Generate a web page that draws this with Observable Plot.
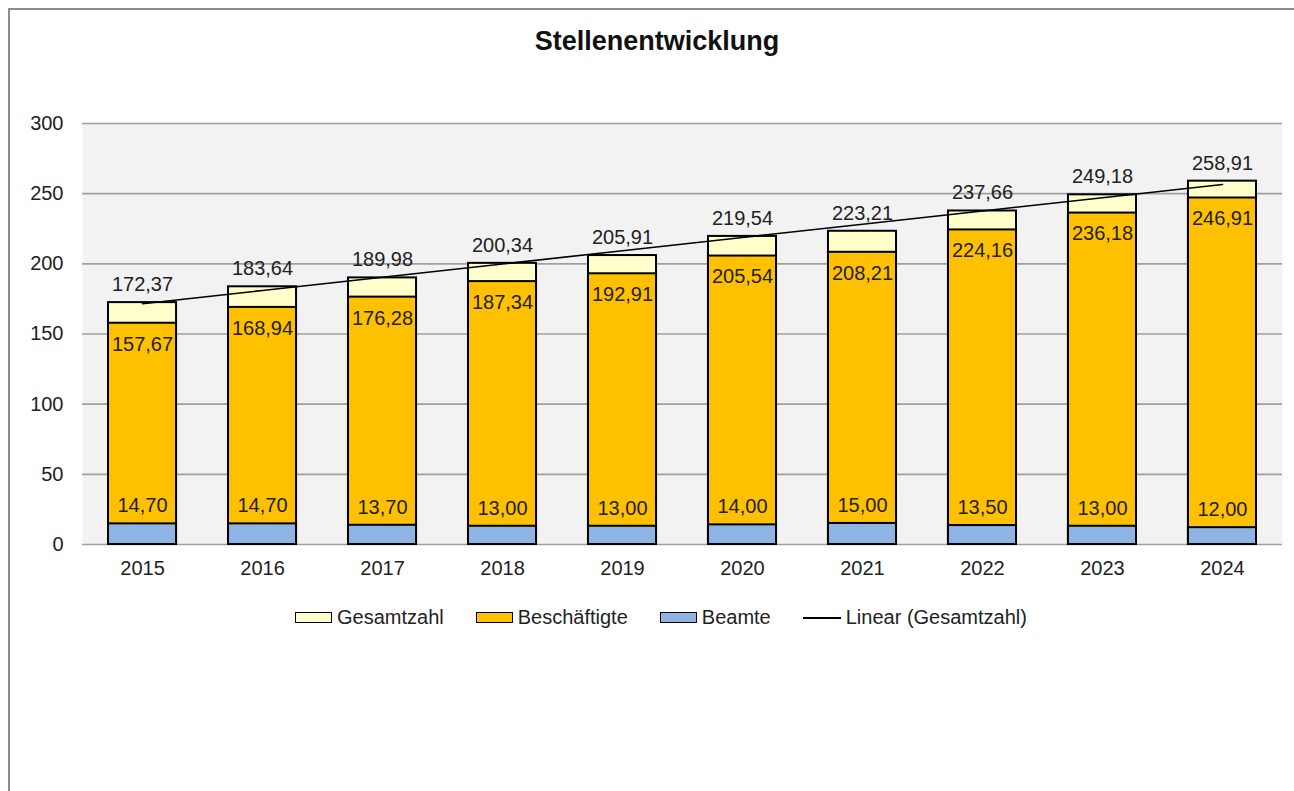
<!DOCTYPE html>
<html>
<head>
<meta charset="utf-8">
<script src="https://cdn.jsdelivr.net/npm/d3@7"></script>
<script src="https://cdn.jsdelivr.net/npm/@observablehq/plot@0.6"></script>
<style>
  html, body { margin: 0; padding: 0; background: #fff; }
  #page { position: relative; width: 1294px; height: 791px; overflow: hidden; font-family: "Liberation Sans", Arial, sans-serif; }
  #frame { position: absolute; left: 8px; top: 8px; width: 1400px; height: 900px; border-left: 2px solid #8c8c8c; border-top: 2px solid #8c8c8c; }
  #title { position: absolute; left: 0; top: 26px; width: 1314px; text-align: center; font-weight: bold; font-size: 27px; color: #111; }
  #chart { position: absolute; left: 0; top: 100px; }
  #legend { position: absolute; left: 295px; top: 606px; display: flex; gap: 32px; align-items: center; font-size: 20px; color: #222; }
  .item { display: flex; align-items: center; gap: 5px; }
  .sw { width: 35px; height: 9px; border: 1.6px solid #000; }
  .ln { width: 38px; height: 0; border-top: 2px solid #000; }
</style>
</head>
<body>
<div id="page">
  <div id="frame"></div>
  <div id="title">Stellenentwicklung</div>
  <div id="chart"></div>
  <div id="legend"></div>
</div>
<script>
const years = ["2015","2016","2017","2018","2019","2020","2021","2022","2023","2024"];
const gesamtzahl = [172.37,183.64,189.98,200.34,205.91,219.54,223.21,237.66,249.18,258.91];
const beschaeftigte = [157.67,168.94,176.28,187.34,192.91,205.54,208.21,224.16,236.18,246.91];
const beamte = [14.70,14.70,13.70,13.00,13.00,14.00,15.00,13.50,13.00,12.00];
const yTicks = [0,50,100,150,200,250,300];
const seriesNames = ["Gesamtzahl","Beschäftigte","Beamte","Linear (Gesamtzahl)"];
const colors = {Gesamtzahl: "#ffffcc", "Beschäftigte": "#ffc000", Beamte: "#8db4e2"};

const fmt = d3.formatLocale({decimal: ",", thousands: ".", grouping: [3], currency: ["", "€"]}).format(".2f");

const rows = years.map((y, i) => ({year: y, i, g: gesamtzahl[i], b: beschaeftigte[i], a: beamte[i]}));

// linear trend of Gesamtzahl
const mx = d3.mean(rows, d => d.i), my = d3.mean(rows, d => d.g);
const slope = d3.sum(rows, d => (d.i - mx) * (d.g - my)) / d3.sum(rows, d => (d.i - mx) ** 2);
const icpt = my - slope * mx;
const trend = rows.map(d => ({year: d.year, v: icpt + slope * d.i}));

const txt = {fontSize: 20, fill: "#222", fontFamily: "Liberation Sans, Arial, sans-serif"};

const chart = Plot.plot({
  width: 1294,
  height: 484,
  marginTop: 23,
  marginBottom: 40,
  marginLeft: 82,
  marginRight: 12,
  style: {fontFamily: "Liberation Sans, Arial, sans-serif", fontSize: "20px", color: "#222", background: "transparent"},
  x: {domain: years, paddingInner: 0.433, paddingOuter: 0.2167, round: false, label: null},
  y: {domain: [0, 300], ticks: yTicks, label: null},
  marks: [
    Plot.frame({fill: "#f2f2f2", stroke: null}),
    Plot.ruleY(yTicks, {stroke: "#a0a0a0", strokeWidth: 1.6}),
    Plot.barY(rows, {x: "year", y: "g", fill: colors.Gesamtzahl, stroke: "#000", strokeWidth: 2}),
    Plot.barY(rows, {x: "year", y: "b", fill: colors["Beschäftigte"], stroke: "#000", strokeWidth: 2}),
    Plot.barY(rows, {x: "year", y: "a", fill: colors.Beamte, stroke: "#000", strokeWidth: 2}),
    Plot.line(trend, {x: "year", y: "v", stroke: "#000", strokeWidth: 1.6}),
    Plot.text(rows, {x: "year", y: "g", text: d => fmt(d.g), dy: -18, ...txt}),
    Plot.text(rows, {x: "year", y: "b", text: d => fmt(d.b), dy: 21, ...txt}),
    Plot.text(rows, {x: "year", y: "a", text: d => fmt(d.a), dy: -18, ...txt}),
    Plot.axisY({ticks: yTicks, tickSize: 0, tickPadding: 19, tickFormat: d => String(d), fontSize: 20}),
    Plot.axisX({tickSize: 0, tickPadding: 16, fontSize: 20})
  ]
});
document.getElementById("chart").appendChild(chart);

const legend = document.getElementById("legend");
seriesNames.forEach(name => {
  const item = document.createElement("div");
  item.className = "item";
  const sw = document.createElement("div");
  if (colors[name]) { sw.className = "sw"; sw.style.background = colors[name]; }
  else { sw.className = "ln"; }
  const label = document.createElement("span");
  label.textContent = name;
  item.appendChild(sw);
  item.appendChild(label);
  legend.appendChild(item);
});
</script>
</body>
</html>
